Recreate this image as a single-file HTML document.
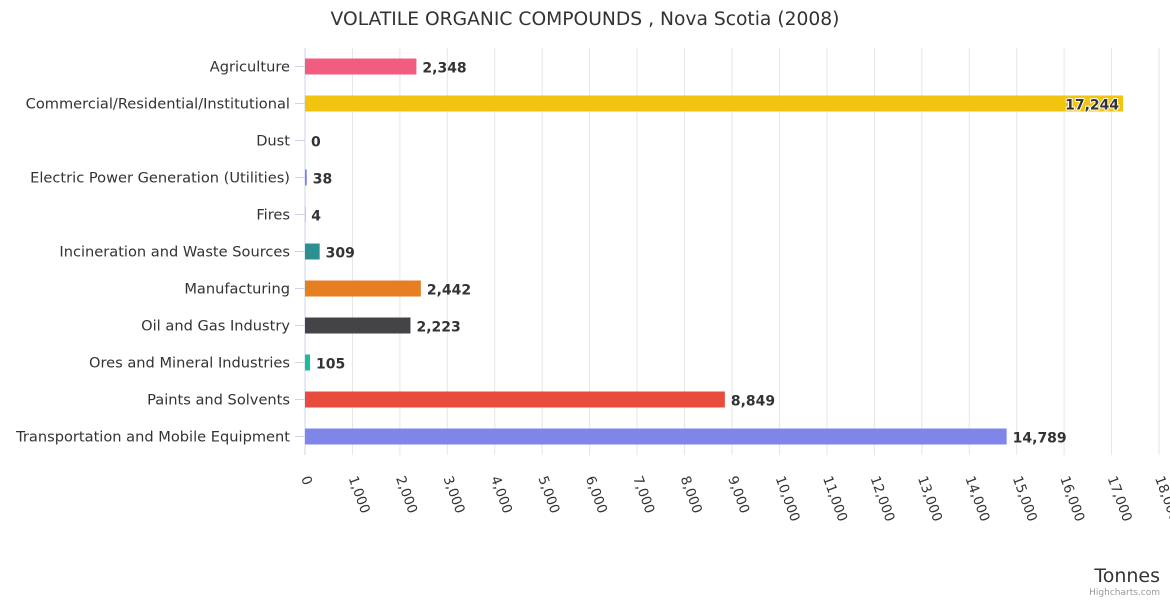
<!DOCTYPE html>
<html><head><meta charset="utf-8"><style>
body{margin:0;background:#fff;font-family:"Liberation Sans","DejaVu Sans",sans-serif}
</style></head><body>
<svg id="c" width="1170" height="600" style="font-family:'DejaVu Sans','Liberation Sans',sans-serif">
<text x="585" y="25" text-anchor="middle" font-size="18.7" fill="#333">VOLATILE ORGANIC COMPOUNDS , Nova Scotia (2008)</text>
<g id="grid"></g><g id="bars"></g><g id="labels"></g>
<text x="1160" y="582" text-anchor="end" font-size="19" fill="#333">Tonnes</text>
<text x="1160" y="595" text-anchor="end" font-size="9" fill="#999">Highcharts.com</text>
</svg>
<script>
const categories=["Agriculture","Commercial/Residential/Institutional","Dust","Electric Power Generation (Utilities)","Fires","Incineration and Waste Sources","Manufacturing","Oil and Gas Industry","Ores and Mineral Industries","Paints and Solvents","Transportation and Mobile Equipment"];
const values=[2348,17244,0,38,4,309,2442,2223,105,8849,14789];
const colors=["#f15c80","#f1c40f","#2b908f","#8085e9","#e4d354","#2b908f","#e67e22","#434348","#1abc9c","#e74c3c","#8085e9"];
const ticks=[0,1000,2000,3000,4000,5000,6000,7000,8000,9000,10000,11000,12000,13000,14000,15000,16000,17000,18000];
const X0=305,X1=1159,Y0=48,Y1=455,MAX=18000;
const xs=v=>X0+(X1-X0)*v/MAX;
const band=(Y1-Y0)/categories.length;
const yc=i=>Y0+band*(i+0.5);
const ns="http://www.w3.org/2000/svg";
function mk(t,a,p){const e=document.createElementNS(ns,t);for(const k in a)e.setAttribute(k,a[k]);p.appendChild(e);return e;}
const g=document.getElementById('grid'),b=document.getElementById('bars'),l=document.getElementById('labels');
const fmt=v=>v.toLocaleString('en-US');
ticks.forEach(t=>{
 const ln=mk('line',{x1:xs(t),x2:xs(t),y1:Y0,y2:Y1,stroke:t===0?'#ccd6eb':'#e6e6e6','stroke-width':1},g);
 
 
 const tx=mk('text',{x:0,y:0,'font-size':13.5,fill:'#333',transform:`translate(${xs(t)-4},${478}) rotate(70)`},l);
 tx.textContent=fmt(t);
 
 
});
categories.forEach((c,i)=>{
 const y=yc(i);
 const tk=mk('line',{x1:X0-10,x2:X0,y1:y,y2:y,stroke:'#ccd6eb'},g);
 
 
 const lab=mk('text',{x:290,y:y+5,'text-anchor':'end','font-size':14.6,fill:'#333'},l);
 lab.textContent=c;
 
 
 const w=xs(values[i])-X0;
 const r=mk('rect',{x:X0,y:y-8,width:Math.max(w,values[i]>0?1:0),height:16,fill:colors[i]},b);
 
 
 const inside=xs(values[i])>1080;
 const v=mk('text',{x:inside?xs(values[i])-4:xs(values[i])+6,y:y+6,'text-anchor':inside?'end':'start','font-size':14,'font-weight':'bold',fill:'#333',stroke:'#fff','stroke-width':inside?2:0,'paint-order':'stroke'},l);
 v.textContent=fmt(values[i]);
 
 
});
mk('line',{x1:X0,x2:X0,y1:Y0,y2:Y1,stroke:'#ccd6eb'},g);
</script>
</body></html>
